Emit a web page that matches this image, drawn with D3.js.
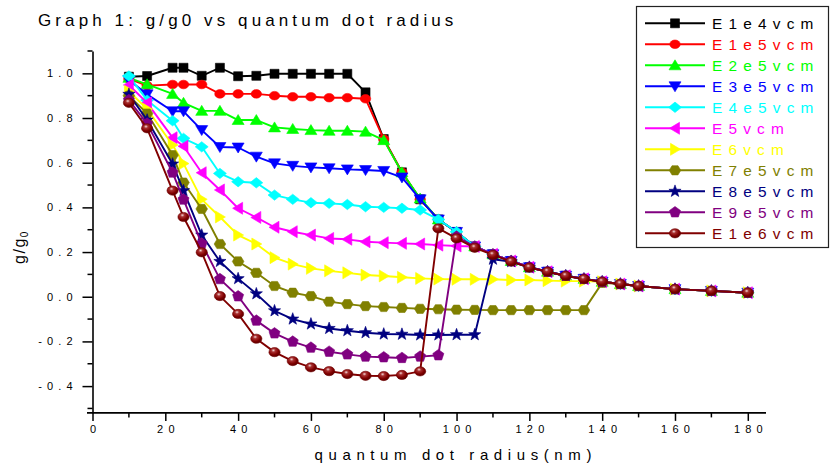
<!DOCTYPE html>
<html><head><meta charset="utf-8">
<script src="https://cdn.jsdelivr.net/npm/d3@7"></script>
<style>
html,body{margin:0;padding:0;background:#fff;}
svg{display:block;font-family:"Liberation Sans",Arial,sans-serif;}
</style></head><body>
<svg id="chart" width="833" height="471"></svg>
<script>
// ---------- data ----------
const radius = [10,15,22,25,30,35,40,45,50,55,60,65,70,75,80,85,90,95,100,105,110,115,120,125,130,135,140,145,150,160,170,180];
const seriesNames = ["E1e4vcm","E1e5vcm","E2e5vcm","E3e5vcm","E4e5vcm","E5vcm","E6vcm","E7e5vcm","E8e5vcm","E9e5vcm","E1e6vcm"];
const seriesColors = ["#000000","#ff0000","#00ff00","#0000ff","#00ffff","#ff00ff","#ffff00","#808000","#000080","#800080","#800000"];
const seriesSymbols = ["square","circle","triangleUp","triangleDown","diamond","triangleLeft","triangleRight","hexagon","star","pentagon","sphere"];

const gE1e4 = [0.985,0.988,1.025,1.025,0.989,1.025,0.987,0.989,0.998,0.998,0.998,0.998,0.998,0.915,0.706,0.557,0.436,0.346,0.290,0.225,0.190,0.160,0.132,0.112,0.094,0.080,0.067,0.057,0.048,0.034,0.026,0.018];
const gE1e5 = [0.975,0.945,0.950,0.950,0.950,0.908,0.908,0.908,0.900,0.895,0.895,0.891,0.891,0.886,0.706,0.557,0.436,0.346,0.290,0.225,0.190,0.160,0.132,0.112,0.094,0.080,0.067,0.057,0.048,0.034,0.026,0.018];
const gE2e5 = [0.980,0.951,0.908,0.868,0.832,0.832,0.791,0.791,0.758,0.751,0.746,0.743,0.743,0.739,0.701,0.557,0.440,0.346,0.290,0.225,0.190,0.160,0.132,0.112,0.094,0.080,0.067,0.057,0.048,0.034,0.026,0.018];
const gE3e5 = [0.970,0.906,0.830,0.830,0.746,0.670,0.668,0.627,0.597,0.586,0.579,0.575,0.570,0.567,0.563,0.534,0.436,0.346,0.290,0.225,0.190,0.160,0.132,0.112,0.094,0.080,0.067,0.057,0.048,0.034,0.026,0.018];
const gE4e5 = [0.988,0.880,0.788,0.709,0.671,0.552,0.515,0.510,0.455,0.436,0.421,0.418,0.413,0.403,0.400,0.396,0.388,0.346,0.291,0.225,0.190,0.160,0.132,0.112,0.094,0.080,0.067,0.057,0.048,0.034,0.026,0.018];
const gE5 = [0.948,0.868,0.712,0.674,0.555,0.478,0.396,0.355,0.311,0.291,0.276,0.261,0.257,0.246,0.242,0.239,0.236,0.231,0.227,0.225,0.190,0.160,0.132,0.112,0.094,0.080,0.067,0.057,0.048,0.034,0.026,0.018];
const gE6 = [0.920,0.840,0.679,0.596,0.436,0.357,0.276,0.236,0.175,0.146,0.127,0.116,0.107,0.097,0.093,0.087,0.082,0.079,0.078,0.078,0.078,0.075,0.075,0.072,0.070,0.070,0.067,0.057,0.048,0.034,0.026,0.018];
const gE7e5 = [0.900,0.820,0.634,0.511,0.393,0.236,0.158,0.107,0.048,0.018,0.003,-0.022,-0.033,-0.042,-0.046,-0.050,-0.054,-0.056,-0.058,-0.059,-0.060,-0.060,-0.060,-0.060,-0.060,-0.060,0.062,0.057,0.048,0.034,0.026,0.018];
const gE8e5 = [0.906,0.791,0.594,0.475,0.276,0.158,0.081,0.013,-0.063,-0.100,-0.122,-0.142,-0.152,-0.161,-0.167,-0.168,-0.171,-0.171,-0.170,-0.170,0.168,0.157,0.132,0.112,0.094,0.080,0.067,0.057,0.048,0.034,0.026,0.018];
const gE9e5 = [0.880,0.775,0.556,0.435,0.238,0.079,0.002,-0.107,-0.164,-0.201,-0.228,-0.246,-0.258,-0.268,-0.271,-0.274,-0.268,-0.262,0.269,0.225,0.190,0.160,0.132,0.112,0.094,0.080,0.067,0.057,0.048,0.034,0.026,0.018];
const gE1e6 = [0.868,0.754,0.475,0.357,0.199,0.003,-0.077,-0.188,-0.248,-0.288,-0.316,-0.333,-0.346,-0.354,-0.355,-0.350,-0.334,0.306,0.261,0.219,0.187,0.157,0.130,0.112,0.093,0.079,0.067,0.057,0.048,0.034,0.026,0.018];
const seriesValues = [gE1e4,gE1e5,gE2e5,gE3e5,gE4e5,gE5,gE6,gE7e5,gE8e5,gE9e5,gE1e6];

const xTickValues = [0,20,40,60,80,100,120,140,160,180];
const xTickLabels = ["0","20","40","60","80","100","120","140","160","180"];
const xMinorTicks = [10,30,50,70,90,110,130,150,170];
const yTickValues = [-0.4,-0.2,0.0,0.2,0.4,0.6,0.8,1.0];
const yTickLabels = ["-0.4","-0.2","0.0","0.2","0.4","0.6","0.8","1.0"];
const yMinorTicks = [-0.5,-0.3,-0.1,0.1,0.3,0.5,0.7,0.9,1.1];

const titleText = "Graph 1: g/g0 vs quantum dot radius";
const xTitle = "quantum dot radius(nm)";

// ---------- setup ----------
const svg = d3.select("#chart");
const x = d3.scaleLinear().domain([0,185]).range([92.5,766]);
const y = d3.scaleLinear().domain([-0.52,1.1]).range([412.9,51.0]);

const defs = svg.append("defs");
const grad = defs.append("radialGradient").attr("id","sph").attr("cx","40%").attr("cy","35%").attr("r","65%").attr("fx","40%").attr("fy","30%");
grad.append("stop").attr("offset","0%").attr("stop-color","#f4dada");
grad.append("stop").attr("offset","28%").attr("stop-color","#a83030");
grad.append("stop").attr("offset","70%").attr("stop-color","#800000");
grad.append("stop").attr("offset","100%").attr("stop-color","#5a0000");

function polyPath(pts){ return "M" + pts.map(p => p[0].toFixed(2)+","+p[1].toFixed(2)).join("L") + "Z"; }
function regular(n, r, rot){ const a=[]; for(let i=0;i<n;i++){ const t = rot + i*2*Math.PI/n; a.push([r*Math.cos(t), r*Math.sin(t)]); } return a; }
function starPts(ro, ri){ const a=[]; for(let i=0;i<10;i++){ const t=-Math.PI/2 + i*Math.PI/5; const r = i%2===0?ro:ri; a.push([r*Math.cos(t), r*Math.sin(t)]); } return a; }
const shapePaths = {
  square: "M-4.5,-4.5h9v9h-9Z",
  triangleUp: polyPath([[0,-5.5],[6,4.5],[-6,4.5]]),
  triangleDown: polyPath([[-6,-4.5],[6,-4.5],[0,5.5]]),
  diamond: polyPath([[0,-5.2],[6.5,0],[0,5.2],[-6.5,0]]),
  triangleLeft: polyPath([[-5.5,0],[4.5,-6],[4.5,6]]),
  triangleRight: polyPath([[5.5,0],[-4.5,-6],[-4.5,6]]),
  hexagon: polyPath([[-5.8,0],[-3,-4.6],[3,-4.6],[5.8,0],[3,4.6],[-3,4.6]]),
  star: polyPath(starPts(6.4,2.6)),
  pentagon: polyPath(regular(5,5.8,-Math.PI/2))
};
function drawMarker(g, sym, color, cx, cy){
  if(sym==="circle"){
    g.append("ellipse").attr("cx",cx).attr("cy",cy).attr("rx",5.2).attr("ry",4.3).attr("fill",color).attr("stroke",color).attr("stroke-width",0.6);
  } else if(sym==="sphere"){
    g.append("ellipse").attr("cx",cx).attr("cy",cy).attr("rx",5.6).attr("ry",4.6).attr("fill","url(#sph)").attr("stroke","#700000").attr("stroke-width",0.6);
  } else {
    g.append("path").attr("d",shapePaths[sym]).attr("transform",`translate(${cx},${cy})`).attr("fill",color).attr("stroke",color).attr("stroke-width",0.6);
  }
}

// ---------- axes ----------
const axisG = svg.append("g");
const yAxis = d3.axisLeft(y).tickValues(yTickValues).tickSize(10).tickSizeOuter(0).tickPadding(4.6)
  .tickFormat((d,i) => yTickLabels[i]);
const gy = axisG.append("g").attr("transform","translate(92.5,0)").call(yAxis);
gy.selectAll("path.domain").attr("stroke","#000").attr("stroke-width",1.6);
gy.selectAll(".tick line").attr("stroke","#000").attr("stroke-width",1.5);
gy.selectAll(".tick text").attr("font-size",11).attr("fill","#000").style("letter-spacing","5.2px").attr("font-family","Liberation Sans, Arial, sans-serif");
gy.selectAll(".ymin").data(yMinorTicks).enter().append("line").attr("class","ymin")
  .attr("x1",-5).attr("x2",0).attr("y1",d=>y(d)).attr("y2",d=>y(d)).attr("stroke","#000").attr("stroke-width",1.5);

const xAxis = d3.axisBottom(x).tickValues(xTickValues).tickSize(8).tickSizeOuter(0).tickPadding(3.8)
  .tickFormat((d,i) => xTickLabels[i]);
const gx = axisG.append("g").attr("transform",`translate(0,${y(-0.52)})`).call(xAxis);
gx.selectAll("path.domain").remove();
gx.append("line").attr("x1",87).attr("x2",x(185)).attr("y1",0).attr("y2",0).attr("stroke","#000").attr("stroke-width",1.6);
gx.selectAll(".tick line").attr("stroke","#000").attr("stroke-width",1.5);
gx.selectAll(".tick text").attr("font-size",11).attr("fill","#000").attr("dx",2.6).style("letter-spacing","5.2px").attr("font-family","Liberation Sans, Arial, sans-serif");
gx.selectAll(".xmin").data(xMinorTicks).enter().append("line").attr("class","xmin")
  .attr("x1",d=>x(d)).attr("x2",d=>x(d)).attr("y1",0).attr("y2",4.5).attr("stroke","#000").attr("stroke-width",1.5);

// ---------- titles ----------
svg.append("text").attr("x",38).attr("y",25.5).attr("font-size",17).style("letter-spacing","4.1px").attr("fill","#000").text(titleText);
svg.append("text").attr("x",453 + 2.8).attr("y",460).attr("text-anchor","middle").attr("font-size",15).style("letter-spacing","5.6px").attr("fill","#000").text(xTitle);
const yt = svg.append("text").attr("transform","translate(25,247) rotate(-90)").attr("text-anchor","middle").attr("font-size",16).style("letter-spacing","1.5px").attr("fill","#000");
yt.append("tspan").text("g/g");
yt.append("tspan").attr("font-size",10).attr("dy",3).text("0");

// ---------- series ----------
const line = d3.line().x(d=>x(d[0])).y(d=>y(d[1]));
const plotG = svg.append("g");
seriesValues.forEach((vals, si) => {
  const pts = radius.map((r,i) => [r, vals[i]]);
  const g = plotG.append("g");
  g.append("path").attr("d", line(pts)).attr("fill","none").attr("stroke",seriesColors[si]).attr("stroke-width",1.9).attr("stroke-linejoin","round");
  pts.forEach(p => drawMarker(g, seriesSymbols[si], seriesColors[si], x(p[0]), y(p[1])));
});

// ---------- legend ----------
const leg = svg.append("g");
leg.append("rect").attr("x",636.5).attr("y",6.5).attr("width",192).attr("height",241).attr("fill","#fff").attr("stroke","#222").attr("stroke-width",1.2);
seriesNames.forEach((name, i) => {
  const cy = 23.3 + 21 * i;
  leg.append("line").attr("x1",645).attr("x2",705).attr("y1",cy).attr("y2",cy).attr("stroke",seriesColors[i]).attr("stroke-width",1.9);
  drawMarker(leg, seriesSymbols[i], seriesColors[i], 675, cy);
  leg.append("text").attr("x",712).attr("y",cy+5.6).attr("font-size",15.4).style("letter-spacing","6.2px").attr("fill",seriesColors[i]).text(name);
});
</script>
</body></html>
